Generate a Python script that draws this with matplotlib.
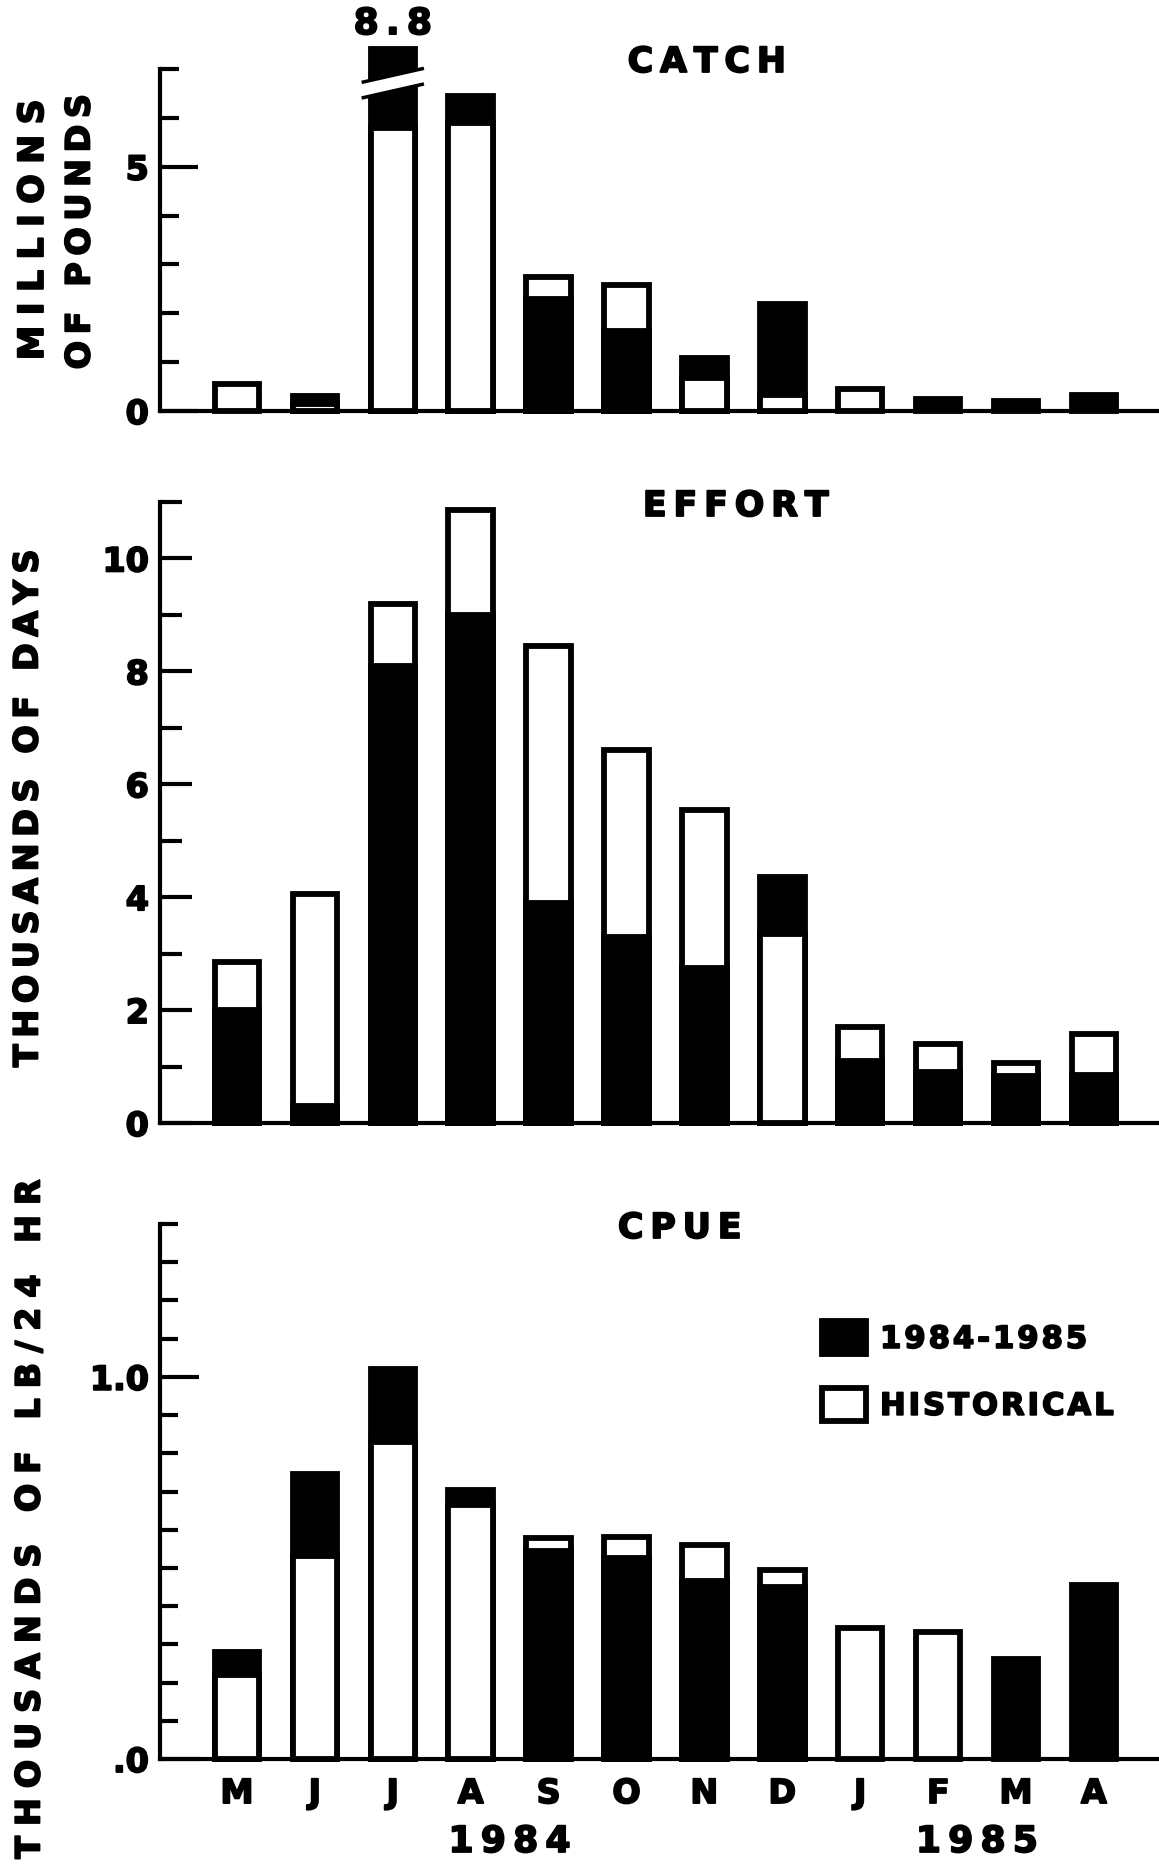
import numpy as np
import matplotlib
matplotlib.use('Agg')
import matplotlib.pyplot as plt
import matplotlib.patheffects as pe
from matplotlib.patches import Patch, Polygon
from matplotlib.ticker import MultipleLocator, FixedLocator, FixedFormatter
from matplotlib.transforms import blended_transform_factory

#-------------------------------------------------------------------------
months = ['M', 'J', 'J', 'A', 'S', 'O', 'N', 'D', 'J', 'F', 'M', 'A']
years = ['1984', '1985']
year_mid = [3.5, 9.5]

# catch, millions of pounds
catch_now  = [0.0, 0.30, 8.8, 6.45, 2.30, 1.63, 1.08, 2.20, 0.0, 0.25, 0.20, 0.33]
catch_hist = [0.55, 0.15, 5.8, 5.90, 2.75, 2.57, 0.68, 0.33, 0.45, 0.0, 0.0, 0.0]

# effort, thousands of days
effort_now  = [2.0, 0.30, 8.1, 9.0, 3.9, 3.3, 2.75, 4.35, 1.1, 0.9, 0.83, 0.85]
effort_hist = [2.85, 4.05, 9.2, 10.85, 8.45, 6.6, 5.55, 3.35, 1.7, 1.4, 1.07, 1.57]

# catch per unit effort, thousands of lb / 24 hr
cpue_now  = [0.28, 0.745, 1.02, 0.705, 0.545, 0.525, 0.465, 0.45, 0.0, 0.0, 0.262, 0.455]
cpue_hist = [0.22, 0.53, 0.83, 0.665, 0.578, 0.58, 0.56, 0.495, 0.344, 0.333, 0.0, 0.0]

#-------------------------------------------------------------------------
W, H = 1159, 1865
BW = 0.57       # bar width
LW = 4.2        # outline width (pt)
CAP = 7.4       # where the off-scale catch bar gets cut

plt.rcParams['font.family'] = 'DejaVu Sans'
plt.rcParams['font.weight'] = 'bold'

# fatten the lettering a bit
HEAVY = [pe.withStroke(linewidth=1.3, foreground='black')]

def spaced(s, n=1):
  return ('\u200a'*n).join(s)

def draw_bars(ax, now, hist, cap=None):
  x = np.arange(len(now))
  for i in range(len(now)):
    h_now = now[i] if cap is None else min(now[i], cap)
    pair = sorted([(h_now, 'black'), (hist[i], 'white')], key=lambda p: -p[0])
    for z, (h, fc) in enumerate(pair):
      if h <= 0:
        continue
      ax.bar(x[i], h, width=BW, color=fc, edgecolor='black',
             linewidth=LW, zorder=3+z, clip_on=False)

def draw_break(ax, xc, yc, slope=0.36, gap=0.16, half=0.40):
  xs = np.array([xc-half, xc+half])
  lo = yc - gap + slope*(xs-xc)
  hi = yc + gap + slope*(xs-xc)
  ax.add_patch(Polygon([[xs[0], lo[0]], [xs[1], lo[1]], [xs[1], hi[1]], [xs[0], hi[0]]],
                       closed=True, fc='white', ec='none', zorder=6, clip_on=False))
  for yy in (lo, hi):
    ax.plot(xs, yy, color='black', lw=2.5, zorder=7, clip_on=False,
            solid_capstyle='butt')

def style_axis(ax, top, major, minor, maj_len, min_len, labels=None):
  ax.set_xlim((160-237)/77.9, (W-237)/77.9)
  ax.set_ylim(0, top)
  for s in ['top', 'right']:
    ax.spines[s].set_visible(False)
  for s in ['left', 'bottom']:
    ax.spines[s].set_linewidth(3.0)
  ax.yaxis.set_major_locator(FixedLocator(major))
  if labels is not None:
    ax.yaxis.set_major_formatter(FixedFormatter(labels))
  ax.yaxis.set_minor_locator(MultipleLocator(minor))
  ax.tick_params(axis='y', which='major', direction='in', length=maj_len,
                 width=3.0, labelsize=24, pad=8)
  ax.tick_params(axis='y', which='minor', direction='in', length=min_len,
                 width=3.0)
  ax.tick_params(axis='x', length=0)

def fatten(ax):
  for t in ax.get_yticklabels() + ax.get_xticklabels():
    t.set_fontweight('bold')
    t.set_path_effects(HEAVY)

#-------------------------------------------------------------------------
fig = plt.figure(figsize=(W/100, H/100), dpi=100)
L = 160/W
ax1 = fig.add_axes([L, 1-412/H, 1-L, 342/H])
ax2 = fig.add_axes([L, 1-1124/H, 1-L, 621/H])
ax3 = fig.add_axes([L, 1-1760/H, 1-L, 535/H])

x = np.arange(len(months))

# CATCH
draw_bars(ax1, catch_now, catch_hist, cap=CAP)
ibig = int(np.argmax(catch_now))
draw_break(ax1, x[ibig], 6.71)
ax1.annotate(spaced('%.1f' % catch_now[ibig], 2), xy=(x[ibig], CAP), xytext=(0, 6),
             textcoords='offset points', ha='center', va='bottom', fontsize=26,
             annotation_clip=False, path_effects=HEAVY)
style_axis(ax1, 7, [0, 5], 1, 27, 14)
ax1.set_xticks(x)
ax1.set_xticklabels([])

# EFFORT
draw_bars(ax2, effort_now, effort_hist)
style_axis(ax2, 11, [0, 2, 4, 6, 8, 10], 1, 23, 16)
ax2.set_xticks(x)
ax2.set_xticklabels([])

# CPUE
draw_bars(ax3, cpue_now, cpue_hist)
style_axis(ax3, 1.4, [0, 1.0], 0.1, 28, 13, labels=['.0', '1.0'])
ax3.set_xticks(x)
ax3.set_xticklabels(months, fontsize=24, fontweight='bold')
ax3.tick_params(axis='x', pad=13)

for ax in (ax1, ax2, ax3):
  fatten(ax)

trans = blended_transform_factory(ax3.transData, fig.transFigure)
for yr, xm in zip(years, year_mid):
  ax3.text(xm, 1-1843/H, spaced(yr, 2), transform=trans, ha='center',
           va='center', fontsize=26, path_effects=HEAVY)

handles = [Patch(facecolor='black', edgecolor='black', linewidth=LW),
           Patch(facecolor='white', edgecolor='black', linewidth=LW)]
leg = ax3.legend(handles, [spaced('1984-1985'), spaced('HISTORICAL')],
                 loc='upper left', bbox_to_anchor=(822/W, 1-1322/H),
                 bbox_transform=fig.transFigure, frameon=False, fontsize=22,
                 handlelength=1.45, handleheight=1.3, handletextpad=0.45,
                 labelspacing=1.1, borderpad=0, borderaxespad=0)
for t in leg.get_texts():
  t.set_path_effects(HEAVY)

# panel titles
fig.text(707/W, 1-63/H, spaced('CATCH', 2), ha='center', va='center',
         fontsize=25, path_effects=HEAVY)
fig.text(736/W, 1-507/H, spaced('EFFORT', 2), ha='center', va='center',
         fontsize=25, path_effects=HEAVY)
fig.text(680/W, 1-1229/H, spaced('CPUE', 2), ha='center', va='center',
         fontsize=25, path_effects=HEAVY)

# axis titles
fig.text(33/W, 1-230/H, spaced('MILLIONS', 3), rotation=90, ha='center',
         va='center', fontsize=25, path_effects=HEAVY)
fig.text(80/W, 1-232/H, spaced('OF POUNDS', 2), rotation=90, ha='center',
         va='center', fontsize=24, path_effects=HEAVY)
fig.text(28/W, 1-808/H, spaced('THOUSANDS OF DAYS', 2), rotation=90, ha='center',
         va='center', fontsize=24, path_effects=HEAVY)
fig.text(30/W, 1-1518/H, spaced('THOUSANDS OF LB/24 HR', 3), rotation=90, ha='center',
         va='center', fontsize=24, path_effects=HEAVY)

plt.savefig('out.png', dpi=100)
plt.close()
